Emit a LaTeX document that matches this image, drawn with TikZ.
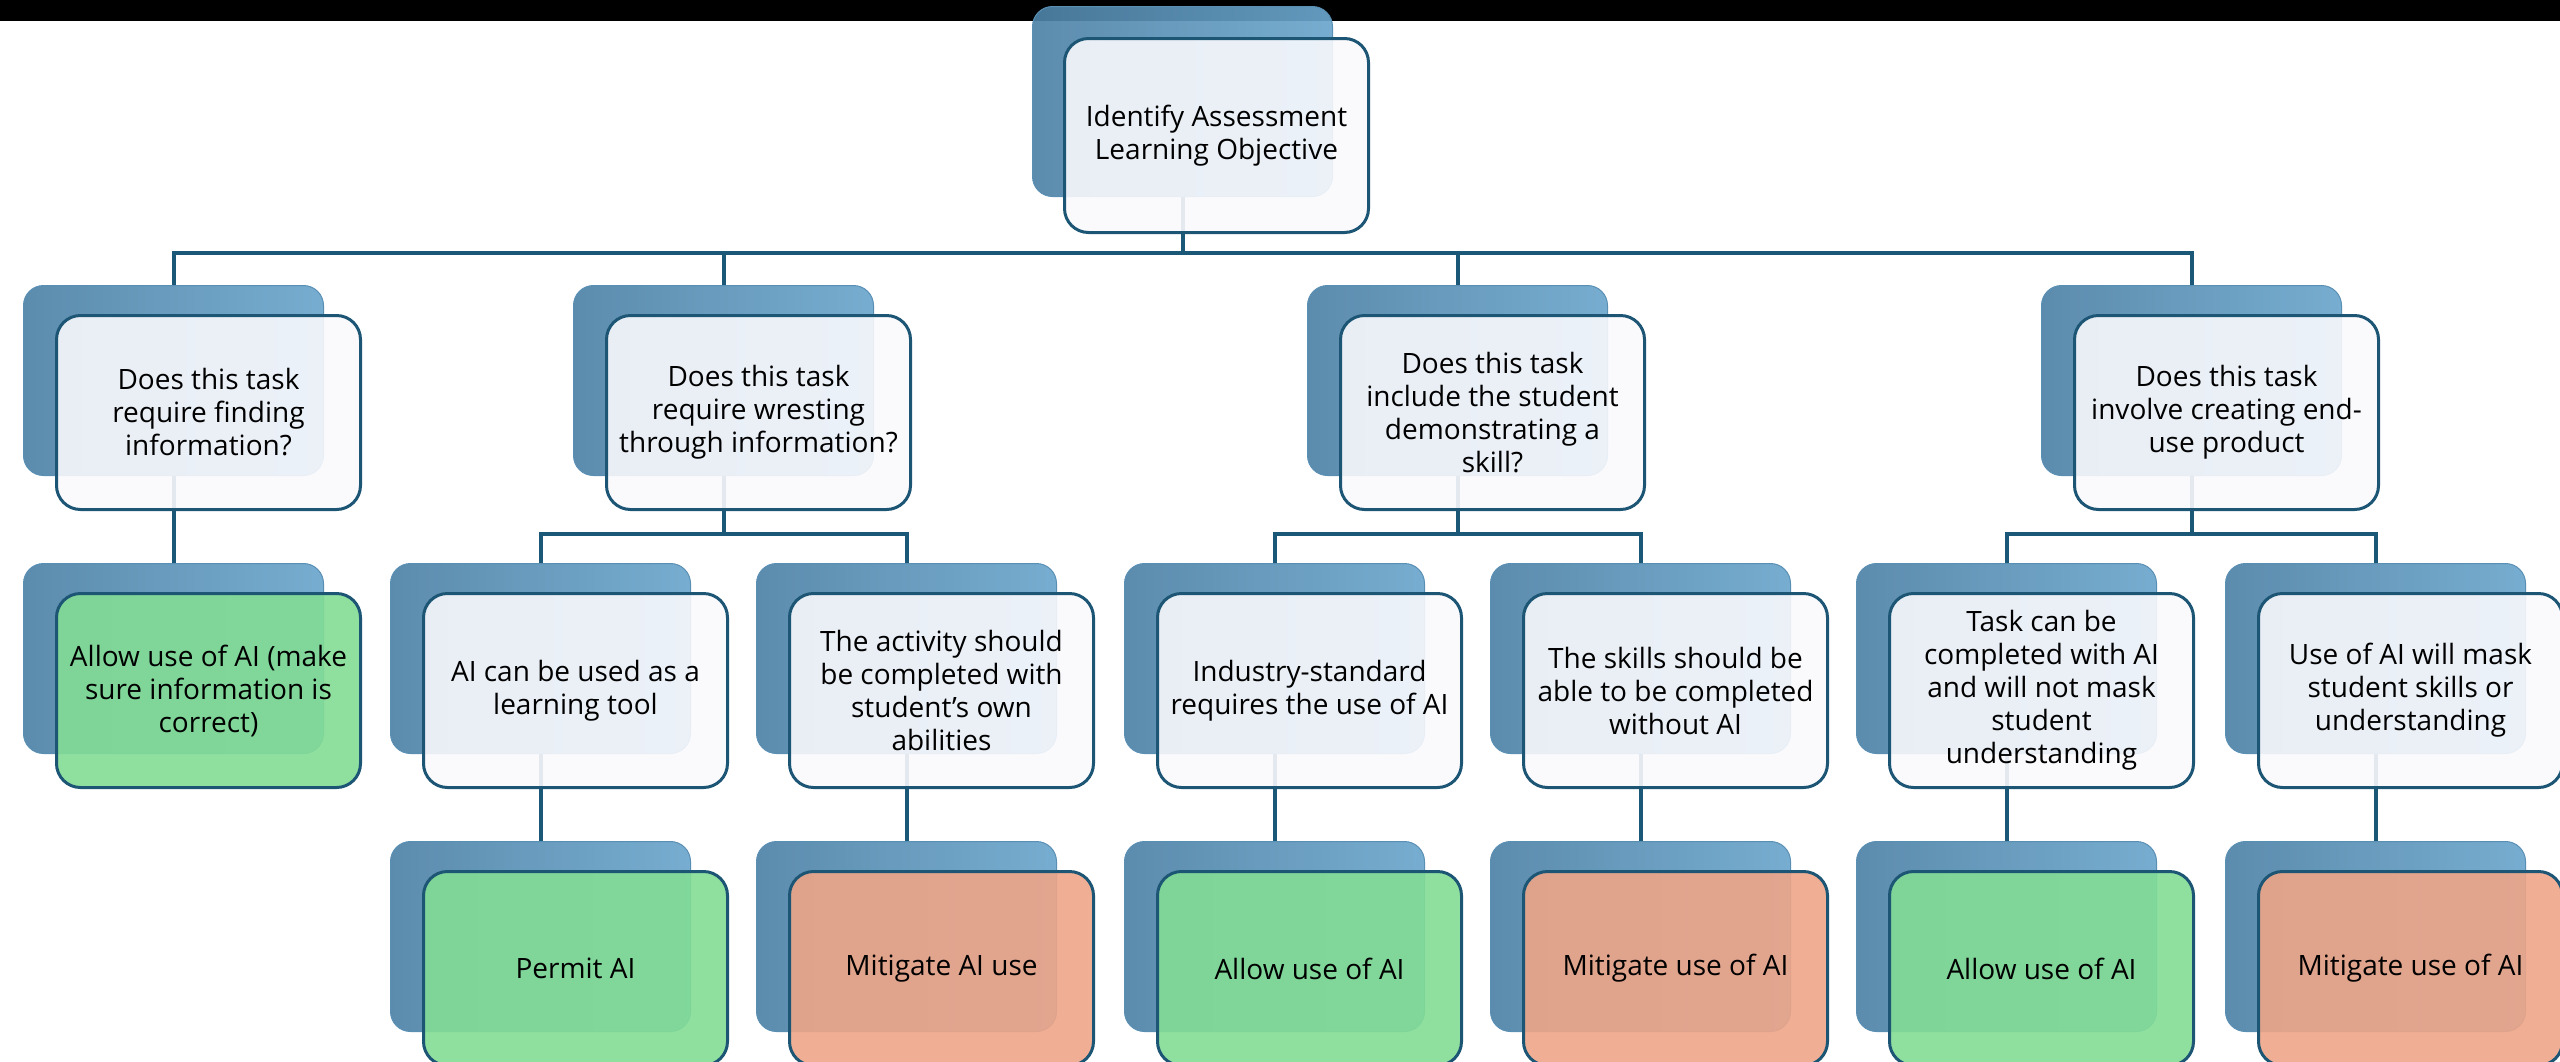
\documentclass[tikz,border=0pt]{standalone}
\usepackage{fontspec}
\setmainfont{Open Sans}
\definecolor{lineC}{HTML}{1B5878}
\definecolor{frameC}{HTML}{1D5675}
\definecolor{backL}{HTML}{4E82A6}
\definecolor{backR}{HTML}{6BA6CC}
\definecolor{backD}{HTML}{5A8FB4}
\definecolor{paleC}{HTML}{F9F9FD}
\definecolor{greenC}{RGB}{131,221,149}
\definecolor{redC}{RGB}{238,165,136}
\pgfdeclarelayer{bg}
\pgfsetlayers{bg,main}
\tikzset{
  backbox/.style={anchor=north west, minimum width=300pt, minimum height=190pt,
    inner sep=0pt, rounded corners=20pt, left color=backL, right color=backR,
    draw=backD, line width=1pt, fill opacity=0.92},
  frontbox/.style={anchor=north west, minimum width=304pt, minimum height=194pt,
    inner sep=0pt, rounded corners=24pt, draw=frameC, line width=3pt, fill=paleC,
    fill opacity=0.9, text opacity=1, align=center,
    font=\fontsize{28}{33}\selectfont},
  greenbox/.style={frontbox, fill=greenC},
  redbox/.style={frontbox, fill=redC},
  conn/.style={draw=lineC, line width=4pt},
}
\begin{document}
\begin{tikzpicture}[x=1pt,y=-1pt]
\useasboundingbox (0,0) rectangle (2560,1061);
\fill[black] (0,0) rectangle (2560,21);

% root
\node[backbox] (rootb) at (1032,6) {};
\node[frontbox] (root) at (1063,37) {Identify Assessment\\Learning Objective};

% level 1
\node[backbox] (qAb) at (23,285) {};
\node[frontbox] (qA) at (55,314) {Does this task\\require finding\\information?};
\node[backbox] (qBb) at (573,285) {};
\node[frontbox] (qB) at (605,314) {Does this task\\require wresting\\through information?};
\node[backbox] (qCb) at (1307,285) {};
\node[frontbox] (qC) at (1339,314) {Does this task\\include the student\\demonstrating a\\skill?};
\node[backbox] (qDb) at (2041,285) {};
\node[frontbox] (qD) at (2073,314) {Does this task\\involve creating end-\\use product};

% level 2
\node[backbox] (rAb) at (23,563) {};
\node[greenbox] (rA) at (55,592) {Allow use of AI (make\\sure information is\\correct)};
\node[backbox] (rB1b) at (390,563) {};
\node[frontbox] (rB1) at (422,592) {AI can be used as a\\learning tool};
\node[backbox] (rB2b) at (756,563) {};
\node[frontbox] (rB2) at (788,592) {The activity should\\be completed with\\student’s own\\abilities};
\node[backbox] (rC1b) at (1124,563) {};
\node[frontbox] (rC1) at (1156,592) {Industry-standard\\requires the use of AI};
\node[backbox] (rC2b) at (1490,563) {};
\node[frontbox] (rC2) at (1522,592) {The skills should be\\able to be completed\\without AI};
\node[backbox] (rD1b) at (1856,563) {};
\node[frontbox] (rD1) at (1888,592) {Task can be\\completed with AI\\and will not mask\\student\\understanding};
\node[backbox] (rD2b) at (2225,563) {};
\node[frontbox] (rD2) at (2257,592) {Use of AI will mask\\student skills or\\understanding};

% level 3
\node[backbox] (sB1b) at (390,841) {};
\node[greenbox] (sB1) at (422,870) {Permit AI};
\node[backbox] (sB2b) at (756,841) {};
\node[redbox] (sB2) at (788,870) {Mitigate AI use};
\node[backbox] (sC1b) at (1124,841) {};
\node[greenbox] (sC1) at (1156,870) {Allow use of AI};
\node[backbox] (sC2b) at (1490,841) {};
\node[redbox] (sC2) at (1522,870) {Mitigate use of AI};
\node[backbox] (sD1b) at (1856,841) {};
\node[greenbox] (sD1) at (1888,870) {Allow use of AI};
\node[backbox] (sD2b) at (2225,841) {};
\node[redbox] (sD2) at (2257,870) {Mitigate use of AI};

\begin{pgfonlayer}{bg}
\coordinate (bus1) at (0,253);
\coordinate (bus2) at (0,534);
\foreach \c in {qAb,qBb,qCb,qDb}
  \draw[conn] (rootb.south) -- (rootb.south |- bus1) -| (\c.north);
\draw[conn] (qAb.south) -- (rAb.north);
\foreach \c in {rB1b,rB2b}
  \draw[conn] (qBb.south) -- (qBb.south |- bus2) -| (\c.north);
\foreach \c in {rC1b,rC2b}
  \draw[conn] (qCb.south) -- (qCb.south |- bus2) -| (\c.north);
\foreach \c in {rD1b,rD2b}
  \draw[conn] (qDb.south) -- (qDb.south |- bus2) -| (\c.north);
\draw[conn] (rB1b.south) -- (sB1b.north);
\draw[conn] (rB2b.south) -- (sB2b.north);
\draw[conn] (rC1b.south) -- (sC1b.north);
\draw[conn] (rC2b.south) -- (sC2b.north);
\draw[conn] (rD1b.south) -- (sD1b.north);
\draw[conn] (rD2b.south) -- (sD2b.north);
\end{pgfonlayer}
\end{tikzpicture}
\end{document}
